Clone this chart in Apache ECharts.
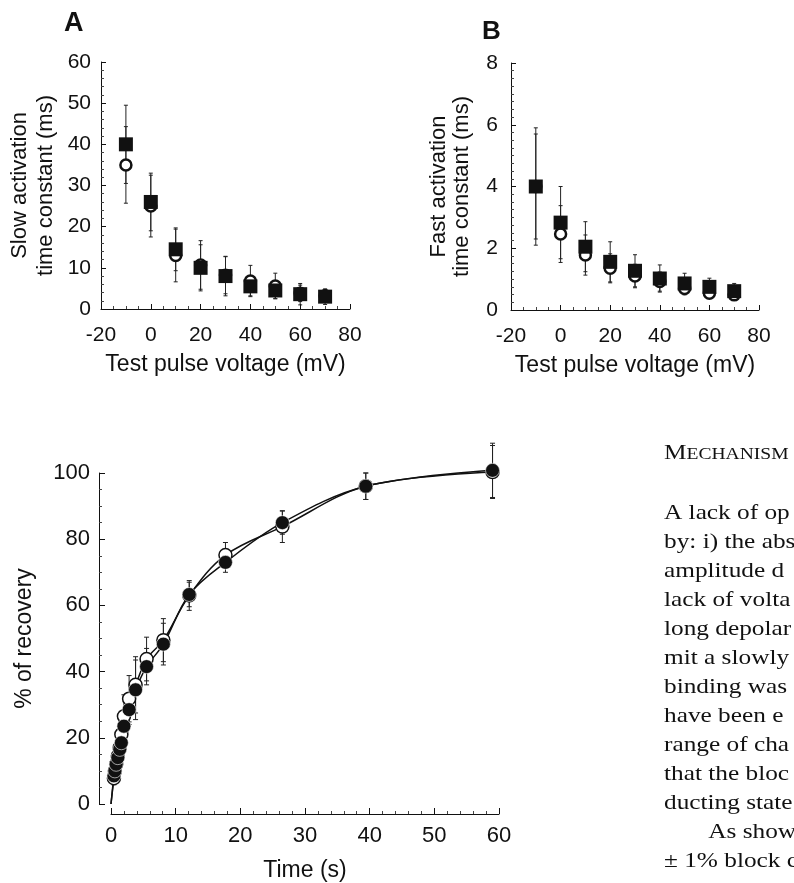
<!DOCTYPE html>
<html>
<head>
<meta charset="utf-8">
<script src="https://cdn.jsdelivr.net/npm/echarts@6/dist/echarts.min.js"></script>
<style>
  html, body { margin: 0; padding: 0; background: #fff; }
  #chart { width: 794px; height: 883px; }
</style>
</head>
<body>
<div id="chart"></div>
<script>
// panel A / B: test pulse voltages (mV)
const voltages = [-10, 0, 10, 20, 30, 40, 50, 60, 70];

// A: slow activation time constant (ms)
const slowSquare    = [40, 26, 14.5, 10, 8, 5.5, 4.5, 3.6, 3];
const slowSquareErr = [9.5, 7, 5.2, 5.6, 4.8, 2.3, 2, 2.6, 1.9];
const slowCircle    = [35, 25, 13, 10.7, 8.2, 6.8, 5.6, 3.8, 3.2];
const slowCircleErr = [9.3, 7.5, 6.4, 5.9, 4.5, 3.8, 3.1, 2, 1.5];

// B: fast activation time constant (ms)
const fastSquare    = [4, 2.83, 2.05, 1.56, 1.27, 1.02, 0.86, 0.75, 0.61];
const fastSquareErr = [1.9, 1.17, 0.81, 0.65, 0.52, 0.44, 0.33, 0.28, 0.25];
const fastCircle    = [4, 2.46, 1.78, 1.35, 1.1, 0.92, 0.7, 0.54, 0.49];
const fastCircleErr = [1.7, 0.92, 0.65, 0.47, 0.38, 0.31, 0.21, 0.15, 0.1];

// C: recovery (%) vs time (s)
const recTime      = [0.45, 0.6, 0.8, 1.05, 1.35, 1.6, 2.0, 2.8, 3.8, 5.5, 8.1, 12.1, 17.7, 26.5, 39.4, 59];
const recFilled    = [8.5, 10, 12, 14, 16.5, 18.5, 23.5, 28.5, 34.5, 41.5, 48.3, 63.3, 73, 85, 96, 100.8];
const recFilledErr = [2, 2, 2.5, 3, 3, 3.5, 4, 4.5, 9, 5.5, 6.3, 3.7, 3, 3.5, 4, 8.2];
const recOpen      = [7.8, 10, 12, 14.5, 17, 21, 26.5, 31.8, 36, 43.8, 49.5, 63, 75.2, 83.8, 96, 100.3];
const recOpenErr   = [2, 2, 2.5, 3, 3.5, 7, 6.5, 7, 8.5, 6.6, 6.5, 4.5, 3.8, 4.8, 4, 8];
const fitStart = [0, 0]; // fitted curves start at the origin

const bodyLines = [
  'A lack of op',
  'by: i) the abs',
  'amplitude d',
  'lack of volta',
  'long depolar',
  'mit a slowly',
  'binding was',
  'have been e',
  'range of cha',
  'that the bloc',
  'ducting state',
  '       As show',
  '\u00b1 1% block c'
];

const FONT = "'Liberation Sans', Arial, Helvetica, sans-serif";
const SERIF = "'Liberation Serif', 'Times New Roman', serif";
const INK = '#111';

const chart = echarts.init(document.getElementById('chart'), null, { renderer: 'canvas' });

function pairs(xs, ys) { return xs.map((x, i) => [x, ys[i]]); }

function errorSeries(idx, xs, ys, errs, z, cap) {
  return {
    type: 'custom', xAxisIndex: idx, yAxisIndex: idx, z, silent: true, clip: false,
    data: xs.map((x, i) => [x, ys[i], errs[i]]),
    renderItem: (params, api) => {
      const x = api.value(0), y = api.value(1), e = api.value(2);
      const hi = api.coord([x, y + e]);
      const lo = api.coord([x, y - e]);
      const w = cap;
      const style = { stroke: '#222', lineWidth: 1 };
      return {
        type: 'group',
        children: [
          { type: 'line', shape: { x1: hi[0], y1: hi[1], x2: lo[0], y2: lo[1] }, style },
          { type: 'line', shape: { x1: hi[0] - w, y1: hi[1], x2: hi[0] + w, y2: hi[1] }, style },
          { type: 'line', shape: { x1: lo[0] - w, y1: lo[1], x2: lo[0] + w, y2: lo[1] }, style }
        ]
      };
    }
  };
}

function valueAxis(o) {
  return Object.assign({
    type: 'value',
    axisLine: { show: true, onZero: false, lineStyle: { color: INK, width: 1 } },
    axisTick: { show: true, inside: true, length: 5, lineStyle: { color: INK } },
    minorTick: { show: true, length: 3, lineStyle: { color: '#444' } },
    splitLine: { show: false },
    minorSplitLine: { show: false },
    axisLabel: { color: INK, fontFamily: FONT, fontSize: 21 },
    nameLocation: 'middle',
    nameTextStyle: { color: INK, fontFamily: FONT, fontSize: 22 }
  }, o);
}

const grids = [
  { left: 101, top: 62, width: 249, height: 247 },
  { left: 511, top: 63, width: 248, height: 247 },
  { left: 111, top: 473, width: 388, height: 334 }
];

const xAxes = [
  valueAxis({ gridIndex: 0, min: -20, max: 80, interval: 20, minorTick: { show: true, splitNumber: 4, length: 3, lineStyle: { color: '#444' } },
    axisLabel: { color: INK, fontFamily: FONT, fontSize: 21, margin: 16 },
    name: 'Test pulse voltage (mV)', nameGap: 44, nameTextStyle: { color: INK, fontFamily: FONT, fontSize: 23 } }),
  valueAxis({ gridIndex: 1, min: -20, max: 80, interval: 20, minorTick: { show: true, splitNumber: 4, length: 3, lineStyle: { color: '#444' } },
    axisLabel: { color: INK, fontFamily: FONT, fontSize: 21, margin: 16 },
    name: 'Test pulse voltage (mV)', nameGap: 44, nameTextStyle: { color: INK, fontFamily: FONT, fontSize: 23 } }),
  valueAxis({ gridIndex: 2, min: 0, max: 60, interval: 10, offset: 10, minorTick: { show: true, splitNumber: 5, length: 3, lineStyle: { color: '#444' } },
    axisTick: { show: true, inside: true, length: 6, lineStyle: { color: INK } },
    axisLabel: { color: INK, fontFamily: FONT, fontSize: 22, margin: 11 },
    name: 'Time (s)', nameGap: 45, nameTextStyle: { color: INK, fontFamily: FONT, fontSize: 23 } })
];

const yAxes = [
  valueAxis({ gridIndex: 0, min: 0, max: 60, interval: 10, minorTick: { show: true, splitNumber: 5, length: 3, lineStyle: { color: '#444' } },
    axisLabel: { color: INK, fontFamily: FONT, fontSize: 21, margin: 10 },
    name: 'Slow activation\ntime constant (ms)', nameGap: 42,
    nameTextStyle: { color: INK, fontFamily: FONT, fontSize: 22, lineHeight: 26 } }),
  valueAxis({ gridIndex: 1, min: 0, max: 8, interval: 2, minorTick: { show: true, splitNumber: 8, length: 3, lineStyle: { color: '#444' } },
    axisLabel: { color: INK, fontFamily: FONT, fontSize: 21, margin: 13 },
    name: 'Fast activation\ntime constant (ms)', nameGap: 38,
    nameTextStyle: { color: INK, fontFamily: FONT, fontSize: 22, lineHeight: 23 } }),
  valueAxis({ gridIndex: 2, min: 0, max: 100, interval: 20, offset: 12, minorTick: { show: true, splitNumber: 4, length: 3, lineStyle: { color: '#444' } },
    axisTick: { show: true, inside: true, length: 6, lineStyle: { color: INK } },
    axisLabel: { color: INK, fontFamily: FONT, fontSize: 22, margin: 9 },
    name: '% of recovery', nameGap: 63,
    nameTextStyle: { color: INK, fontFamily: FONT, fontSize: 23 } })
];

const openCircle = (size, bw) => ({
  type: 'scatter', symbol: 'circle', symbolSize: size, clip: false,
  itemStyle: { color: '#fff', borderColor: INK, borderWidth: bw, opacity: 1 }
});
const filledSquare = {
  type: 'scatter', symbol: 'rect', symbolSize: 14, clip: false,
  itemStyle: { color: INK, opacity: 1 }
};

const series = [
  // A
  errorSeries(0, voltages, slowCircle, slowCircleErr, 1, 2),
  errorSeries(0, voltages, slowSquare, slowSquareErr, 1, 2),
  Object.assign({}, openCircle(11, 2.5), { xAxisIndex: 0, yAxisIndex: 0, z: 2, data: pairs(voltages, slowCircle) }),
  Object.assign({}, filledSquare, { xAxisIndex: 0, yAxisIndex: 0, z: 3, data: pairs(voltages, slowSquare) }),
  // B
  errorSeries(1, voltages, fastCircle, fastCircleErr, 1, 2),
  errorSeries(1, voltages, fastSquare, fastSquareErr, 1, 2),
  Object.assign({}, openCircle(11, 2.5), { xAxisIndex: 1, yAxisIndex: 1, z: 2, data: pairs(voltages, fastCircle) }),
  Object.assign({}, filledSquare, { xAxisIndex: 1, yAxisIndex: 1, z: 3, data: pairs(voltages, fastSquare) }),
  // C fitted curves
  { type: 'line', xAxisIndex: 2, yAxisIndex: 2, z: 1, showSymbol: false, smooth: 0.35, clip: false,
    lineStyle: { color: INK, width: 1.5 }, data: [fitStart].concat(pairs(recTime, recOpen)) },
  { type: 'line', xAxisIndex: 2, yAxisIndex: 2, z: 1, showSymbol: false, smooth: 0.35, clip: false,
    lineStyle: { color: INK, width: 1.5 }, data: [fitStart].concat(pairs(recTime, recFilled)) },
  errorSeries(2, recTime, recOpen, recOpenErr, 2, 2.5),
  errorSeries(2, recTime, recFilled, recFilledErr, 2, 2.5),
  Object.assign({}, openCircle(13, 1.5), { xAxisIndex: 2, yAxisIndex: 2, z: 3, data: pairs(recTime, recOpen) }),
  { type: 'scatter', xAxisIndex: 2, yAxisIndex: 2, z: 4, symbol: 'circle', symbolSize: 14, clip: false,
    itemStyle: { color: INK, borderColor: '#fff', borderWidth: 0.6, opacity: 1 }, data: pairs(recTime, recFilled) }
];

const TEXT_SCALE = 1.15; // printed serif column runs wider than Liberation Serif

const graphic = [
  { type: 'text', x: 64, y: 37, style: { text: 'A', font: `bold 27px ${FONT}`, fill: INK, verticalAlign: 'bottom' } },
  { type: 'text', x: 482, y: 45, style: { text: 'B', font: `bold 26px ${FONT}`, fill: INK, verticalAlign: 'bottom' } },
  { type: 'text', x: 664, y: 453, scaleX: TEXT_SCALE, style: {
      text: '{a|M}{b|ECHANISM}', fill: INK, verticalAlign: 'middle',
      rich: { a: { font: `22px ${SERIF}`, fill: INK }, b: { font: `17px ${SERIF}`, fill: INK, padding: [4, 0, 0, 0] } }
  } }
].concat(bodyLines.map((t, i) => ({
  type: 'text', x: 664, y: 513 + i * 29, scaleX: TEXT_SCALE,
  style: { text: t, font: `22px ${SERIF}`, fill: INK, verticalAlign: 'middle' }
})));

chart.setOption({
  animation: false,
  backgroundColor: '#fff',
  grid: grids,
  xAxis: xAxes,
  yAxis: yAxes,
  series,
  graphic
});
</script>
</body>
</html>
